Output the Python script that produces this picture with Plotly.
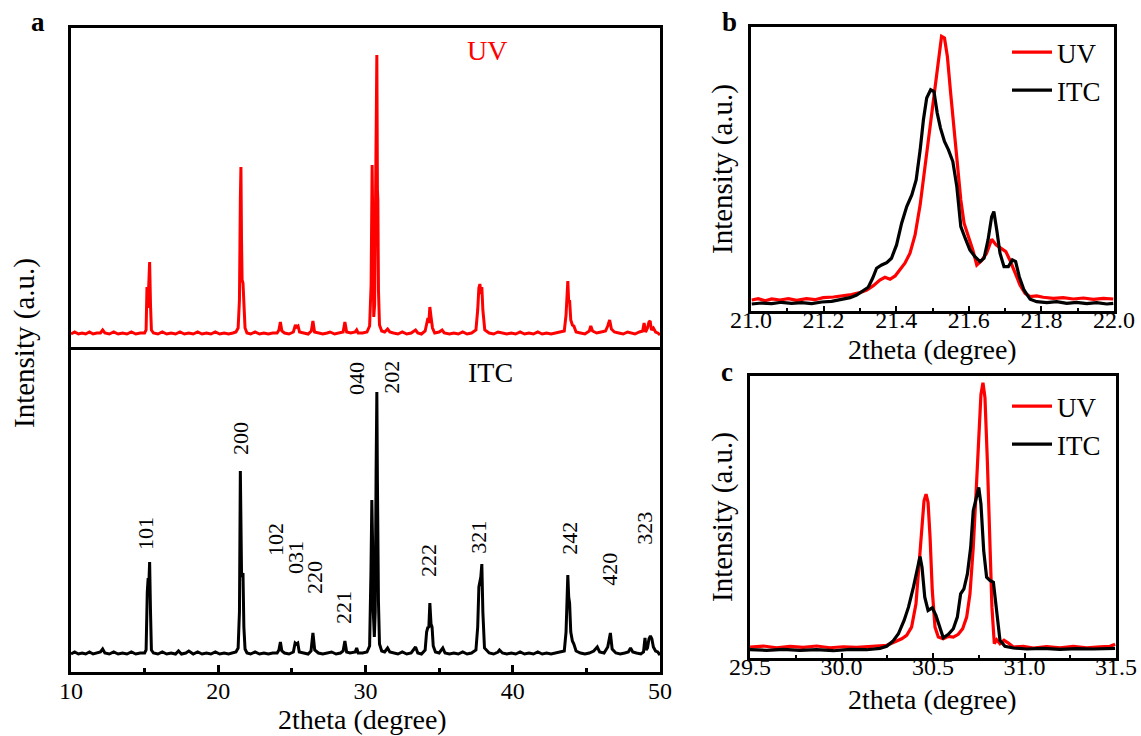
import plotly.graph_objects as go

# ---------------- data ----------------
uv_a_2theta = [10.0, 10.25, 10.5, 10.75, 11.0, 11.25, 11.5, 11.75, 12.0, 12.15, 12.3, 12.6, 12.9, 13.2, 13.5, 13.8, 14.1, 14.4, 14.7, 15.0,
               15.1, 15.16, 15.22, 15.3, 15.34, 15.4, 15.46, 15.6, 15.9, 16.2, 16.5, 16.8, 17.1, 17.4, 17.7, 18.0, 18.3, 18.6, 18.9, 19.2,
               19.5, 19.8, 20.1, 20.4, 20.7, 21.0, 21.2, 21.35, 21.44, 21.5, 21.54, 21.58, 21.62, 21.68, 21.74, 21.82, 21.95, 22.2, 22.5, 22.8,
               23.1, 23.4, 23.7, 24.0, 24.12, 24.22, 24.32, 24.5, 24.8, 25.1, 25.24, 25.32, 25.42, 25.52, 25.8, 26.1, 26.32, 26.43, 26.54, 26.8,
               27.1, 27.4, 27.6, 27.9, 28.2, 28.48, 28.6, 28.72, 29.0, 29.3, 29.4, 29.5, 29.8, 30.1, 30.28, 30.38, 30.45, 30.5, 30.56, 30.62,
               30.7, 30.77, 30.81, 30.84, 30.88, 30.95, 31.1, 31.3, 31.5, 31.65, 31.9, 32.2, 32.5, 32.8, 33.1, 33.4, 33.55, 33.8, 34.05, 34.18,
               34.24, 34.3, 34.37, 34.45, 34.55, 34.7, 35.0, 35.2, 35.35, 35.7, 36.0, 36.3, 36.6, 36.9, 37.2, 37.5, 37.62, 37.7, 37.77, 37.84,
               37.9, 37.97, 38.1, 38.4, 38.7, 39.0, 39.3, 39.6, 39.9, 40.2, 40.5, 40.8, 41.1, 41.4, 41.7, 42.0, 42.3, 42.6, 42.9, 43.2,
               43.5, 43.62, 43.68, 43.74, 43.8, 43.86, 43.94, 44.05, 44.15, 44.3, 44.6, 44.9, 45.2, 45.3, 45.42, 45.7, 46.0, 46.3, 46.45, 46.58,
               46.7, 46.9, 47.2, 47.5, 47.8, 48.0, 48.3, 48.6, 48.82, 48.92, 49.02, 49.15, 49.25, 49.33, 49.42, 49.55, 49.7, 49.85, 50.0]
uv_a_intensity = [16, 18, 16, 17, 16, 18, 16, 17, 17, 20, 17, 16, 18, 16, 17, 16, 18, 16, 17, 17,
                  20, 63, 42, 70, 88, 45, 20, 17, 16, 18, 16, 17, 16, 18, 16, 17, 16, 18, 16, 17,
                  16, 18, 16, 17, 16, 17, 18, 22, 50, 150, 183, 110, 70, 67, 40, 22, 17, 16, 18, 16,
                  17, 16, 17, 17, 20, 28, 19, 17, 16, 18, 25, 23, 24, 18, 17, 16, 19, 29, 18, 17,
                  16, 17, 18, 16, 17, 18, 28, 18, 17, 18, 20, 17, 17, 18, 24, 65, 185, 70, 33, 45,
                  170, 295, 160, 150, 60, 25, 19, 18, 21, 18, 17, 16, 18, 16, 17, 20, 17, 16, 19, 30,
                  32, 27, 43, 33, 22, 17, 18, 20, 17, 16, 17, 16, 18, 16, 17, 20, 40, 62, 66, 56,
                  63, 40, 20, 17, 16, 18, 17, 16, 17, 16, 18, 16, 17, 16, 18, 16, 17, 16, 17, 18,
                  19, 35, 60, 69, 48, 50, 30, 25, 24, 18, 17, 16, 19, 24, 19, 17, 18, 19, 24, 30,
                  21, 18, 17, 16, 18, 17, 16, 18, 19, 27, 18, 22, 28, 29, 20, 22, 18, 17, 15]

itc_a_2theta = [10.0, 10.25, 10.5, 10.75, 11.0, 11.25, 11.5, 11.75, 12.0, 12.15, 12.3, 12.6, 12.9, 13.2, 13.5, 13.8, 14.1, 14.4, 14.7, 15.0,
                15.1, 15.18, 15.24, 15.28, 15.34, 15.4, 15.46, 15.6, 15.9, 16.2, 16.5, 16.8, 17.1, 17.3, 17.5, 17.8, 18.0, 18.3, 18.6, 18.9,
                19.2, 19.5, 19.8, 20.1, 20.4, 20.7, 21.0, 21.2, 21.35, 21.44, 21.5, 21.54, 21.58, 21.64, 21.68, 21.74, 21.82, 21.95, 22.2, 22.5,
                22.8, 23.1, 23.4, 23.7, 24.0, 24.12, 24.22, 24.32, 24.5, 24.8, 25.1, 25.22, 25.3, 25.4, 25.5, 25.8, 26.1, 26.3, 26.43, 26.55,
                26.8, 27.1, 27.4, 27.7, 28.0, 28.3, 28.48, 28.6, 28.72, 28.95, 29.3, 29.4, 29.5, 29.8, 30.1, 30.28, 30.37, 30.43, 30.48, 30.53,
                30.6, 30.66, 30.72, 30.77, 30.81, 30.84, 30.88, 30.95, 31.1, 31.3, 31.5, 31.65, 31.9, 32.2, 32.5, 32.8, 33.1, 33.4, 33.55, 33.8,
                34.05, 34.15, 34.24, 34.3, 34.37, 34.45, 34.52, 34.6, 34.75, 35.0, 35.25, 35.4, 35.7, 36.0, 36.3, 36.6, 36.9, 37.2, 37.5, 37.62,
                37.7, 37.77, 37.83, 37.9, 37.97, 38.08, 38.4, 38.7, 39.0, 39.1, 39.3, 39.6, 39.9, 40.2, 40.5, 40.8, 41.1, 41.4, 41.7, 42.0,
                42.3, 42.6, 42.9, 43.2, 43.5, 43.62, 43.68, 43.74, 43.8, 43.86, 43.94, 44.05, 44.15, 44.3, 44.6, 44.9, 45.2, 45.5, 45.74, 45.9,
                46.2, 46.45, 46.63, 46.75, 47.0, 47.3, 47.6, 47.85, 48.0, 48.15, 48.4, 48.7, 48.88, 48.98, 49.06, 49.15, 49.25, 49.35, 49.45, 49.55,
                49.7, 49.85, 50.0]
itc_a_intensity = [18, 20, 18, 19, 18, 20, 18, 19, 20, 23, 19, 18, 20, 18, 19, 18, 20, 18, 19, 19,
                   22, 80, 94, 85, 110, 60, 22, 19, 18, 20, 18, 19, 18, 21, 18, 19, 21, 18, 20, 18,
                   19, 18, 20, 18, 19, 18, 19, 20, 24, 60, 201, 170, 100, 95, 99, 45, 23, 19, 18, 20,
                   18, 19, 18, 19, 19, 22, 30, 21, 19, 18, 20, 29, 28, 29, 20, 19, 18, 21, 39, 22,
                   19, 18, 19, 20, 18, 19, 21, 31, 20, 19, 20, 24, 19, 19, 20, 26, 100, 172, 130, 60,
                   35, 60, 200, 280, 190, 82, 70, 28, 21, 20, 24, 20, 19, 18, 20, 18, 19, 25, 19, 18,
                   22, 40, 45, 44, 69, 48, 45, 26, 20, 19, 24, 19, 18, 19, 18, 20, 18, 19, 22, 45,
                   85, 92, 95, 108, 60, 24, 19, 18, 20, 22, 19, 18, 19, 18, 20, 18, 19, 18, 20, 18,
                   19, 18, 19, 20, 21, 40, 80, 97, 75, 69, 40, 31, 28, 21, 19, 18, 19, 21, 25, 20,
                   19, 25, 39, 23, 19, 18, 19, 20, 24, 20, 19, 18, 20, 34, 22, 24, 33, 36, 33, 25,
                   21, 20, 17]

uv_b_2theta = [21.002, 21.020, 21.039, 21.057, 21.080, 21.103, 21.126, 21.153, 21.176, 21.199, 21.227, 21.254, 21.277, 21.300,
               21.319, 21.337, 21.355, 21.369, 21.383, 21.397, 21.410, 21.424, 21.438, 21.452, 21.466, 21.479, 21.493, 21.505,
               21.516, 21.525, 21.533, 21.541, 21.550, 21.559, 21.568, 21.578, 21.587, 21.599, 21.611, 21.622, 21.635, 21.649,
               21.663, 21.675, 21.691, 21.702, 21.713, 21.727, 21.741, 21.755, 21.769, 21.787, 21.805, 21.833, 21.860, 21.888,
               21.916, 21.943, 21.971, 21.998]
uv_b_intensity = [11.0, 12.3, 10.3, 12.0, 11.0, 12.3, 10.7, 12.3, 11.3, 13.3, 14.0, 15.0, 16.3, 18.3,
                  21.0, 25.3, 31.0, 33.7, 31.7, 35.0, 41.0, 47.7, 57.7, 76.0, 106.0, 144.3, 179.3, 214.3,
                  249.3, 274.3, 272.7, 254.3, 217.7, 181.0, 144.3, 111.0, 87.7, 74.3, 61.0, 46.0, 50.3, 57.7,
                  71.7, 66.0, 61.7, 59.3, 51.0, 37.7, 26.0, 17.7, 14.3, 15.0, 13.7, 12.7, 13.3, 12.0,
                  13.0, 11.7, 12.7, 12.0]
itc_b_2theta = [21.002, 21.029, 21.057, 21.084, 21.112, 21.140, 21.167, 21.195, 21.222, 21.250, 21.273, 21.291, 21.309, 21.323,
                21.335, 21.346, 21.360, 21.374, 21.387, 21.401, 21.415, 21.429, 21.443, 21.455, 21.466, 21.475, 21.484, 21.495,
                21.504, 21.513, 21.522, 21.533, 21.544, 21.556, 21.567, 21.578, 21.590, 21.603, 21.617, 21.631, 21.642, 21.653,
                21.663, 21.669, 21.677, 21.686, 21.697, 21.709, 21.720, 21.729, 21.739, 21.752, 21.769, 21.787, 21.815, 21.842,
                21.870, 21.897, 21.925, 21.952, 21.980, 21.998]
itc_b_intensity = [7.0, 8.0, 7.3, 8.7, 7.7, 8.3, 7.3, 9.0, 9.7, 11.7, 13.3, 16.0, 20.3, 23.7,
                   32.7, 42.7, 46.0, 48.3, 52.7, 66.0, 87.7, 104.3, 116.0, 131.0, 161.0, 191.0, 212.7, 221.0,
                   219.3, 197.7, 182.7, 169.3, 161.0, 149.3, 124.3, 84.3, 72.7, 61.0, 54.3, 49.3, 52.7, 71.0,
                   94.3, 99.3, 81.0, 57.7, 44.3, 44.3, 51.0, 49.3, 34.3, 21.0, 11.7, 9.3, 8.3, 9.3,
                   7.7, 8.7, 7.3, 8.3, 7.0, 7.7]

uv_c_2theta = [29.500, 29.573, 29.646, 29.719, 29.791, 29.864, 29.937, 30.010, 30.083, 30.156, 30.210, 30.247, 30.274, 30.301,
               30.329, 30.356, 30.383, 30.407, 30.423, 30.438, 30.451, 30.462, 30.473, 30.484, 30.496, 30.511, 30.529, 30.556,
               30.584, 30.611, 30.638, 30.662, 30.684, 30.702, 30.720, 30.735, 30.750, 30.762, 30.773, 30.784, 30.797, 30.810,
               30.822, 30.835, 30.848, 30.866, 30.888, 30.912, 30.939, 30.994, 31.048, 31.121, 31.194, 31.267, 31.340, 31.413,
               31.467, 31.495]
uv_c_intensity = [11.0, 12.0, 10.3, 11.7, 10.7, 12.0, 10.3, 11.3, 10.7, 12.0, 12.3, 12.7, 15.0, 17.0,
                  19.3, 22.7, 31.0, 54.3, 91.0, 131.0, 157.7, 164.3, 156.0, 121.0, 67.7, 31.0, 21.0, 19.3,
                  21.7, 21.0, 23.7, 29.3, 41.0, 64.3, 111.0, 164.3, 224.3, 264.3, 276.0, 261.0, 197.7, 117.7,
                  51.0, 14.3, 18.3, 14.3, 17.7, 15.0, 11.0, 11.7, 10.0, 11.3, 10.3, 11.7, 10.3, 11.3,
                  11.7, 13.7]
itc_c_2theta = [29.500, 29.591, 29.682, 29.773, 29.864, 29.955, 30.046, 30.138, 30.210, 30.247, 30.280, 30.311, 30.342, 30.366,
                30.393, 30.415, 30.429, 30.440, 30.455, 30.473, 30.496, 30.516, 30.535, 30.556, 30.584, 30.611, 30.633, 30.651,
                30.669, 30.688, 30.706, 30.720, 30.735, 30.750, 30.762, 30.777, 30.793, 30.811, 30.830, 30.848, 30.866, 30.893,
                30.939, 31.012, 31.103, 31.194, 31.285, 31.376, 31.495]
itc_c_intensity = [8.3, 7.7, 8.7, 7.7, 8.3, 7.3, 8.7, 8.3, 9.7, 11.7, 16.7, 24.3, 37.7, 51.0,
                   71.0, 87.7, 101.7, 91.0, 61.0, 47.7, 50.3, 42.7, 31.0, 20.3, 23.7, 29.3, 41.0, 64.3,
                   69.3, 84.3, 111.0, 147.7, 159.3, 171.0, 154.3, 107.7, 81.0, 77.7, 76.0, 44.3, 17.7, 11.7,
                   10.0, 9.0, 9.7, 8.7, 9.3, 9.0, 9.7]

peak_labels = ["101", "200", "102", "031", "220", "221", "040", "202", "222", "321", "242", "420", "323"]
peak_label_2theta = [15.02, 21.47, 23.85, 25.21, 26.50, 28.47, 29.35, 31.72, 34.24, 37.63, 43.81, 46.52, 48.90]

series_names = ["UV", "ITC"]
a_ticks = [10, 20, 30, 40, 50]
b_ticks = [21.0, 21.2, 21.4, 21.6, 21.8, 22.0]
c_ticks = [29.5, 30.0, 30.5, 31.0, 31.5]

# ---------------- layout helpers ----------------
W, H = 1141, 736
FONT = "Liberation Serif, Times New Roman, serif"
RED, BLACK = "#ff0000", "#000000"
peak_label_y = [139, 234, 133, 115, 95, 65, 294, 295, 112, 135, 134, 103, 144]


def px(x):
    return x / W


def py(y):
    return 1 - y / H


fig = go.Figure()
fig.add_trace(go.Scatter(x=uv_a_2theta, y=uv_a_intensity, mode="lines", line=dict(color=RED, width=3),
                         xaxis="x", yaxis="y", showlegend=False))
fig.add_trace(go.Scatter(x=itc_a_2theta, y=itc_a_intensity, mode="lines", line=dict(color=BLACK, width=3),
                         xaxis="x2", yaxis="y2", showlegend=False))
fig.add_trace(go.Scatter(x=uv_b_2theta, y=uv_b_intensity, mode="lines", name=series_names[0],
                         line=dict(color=RED, width=3.2), xaxis="x3", yaxis="y3", legend="legend"))
fig.add_trace(go.Scatter(x=itc_b_2theta, y=itc_b_intensity, mode="lines", name=series_names[1],
                         line=dict(color=BLACK, width=3.2), xaxis="x3", yaxis="y3", legend="legend"))
fig.add_trace(go.Scatter(x=uv_c_2theta, y=uv_c_intensity, mode="lines", name=series_names[0],
                         line=dict(color=RED, width=3.2), xaxis="x4", yaxis="y4", legend="legend2"))
fig.add_trace(go.Scatter(x=itc_c_2theta, y=itc_c_intensity, mode="lines", name=series_names[1],
                         line=dict(color=BLACK, width=3.2), xaxis="x4", yaxis="y4", legend="legend2"))

tickfont = dict(family=FONT, size=24, color="black")
frame = dict(showline=True, mirror=True, linecolor="black", linewidth=3, showgrid=False, zeroline=False,
             automargin=False)
yframe = dict(frame, showticklabels=False, ticks="", fixedrange=True)
legfont = dict(family=FONT, size=27, color="black")

fig.update_layout(
    width=W, height=H, margin=dict(l=0, r=0, t=0, b=0, pad=0, autoexpand=False),
    paper_bgcolor="white", plot_bgcolor="white",
    font=dict(family=FONT, color="black"),
    xaxis=dict(frame, domain=[px(71), px(660)], anchor="y", range=[10, 50], showticklabels=False, ticks="",
               side="top", mirror=False),
    yaxis=dict(yframe, domain=[py(350), py(28)], anchor="x", range=[0, 322]),
    xaxis2=dict(frame, domain=[px(71), px(660)], anchor="y2", range=[10, 50], tickvals=a_ticks,
                ticks="inside", ticklen=7, tickwidth=3, tickcolor="black", tickfont=tickfont, ticklabelstandoff=-5,
                minor=dict(dtick=5, ticks="inside", ticklen=4, tickwidth=3, tickcolor="black")),
    yaxis2=dict(yframe, domain=[py(672), py(350)], anchor="x2", range=[0, 322]),
    xaxis3=dict(frame, domain=[px(751), px(1114)], anchor="y3", range=[21.0, 22.0], tickvals=b_ticks,
                ticktext=[f"{v:.1f}" for v in b_ticks],
                ticks="inside", ticklen=5, tickwidth=2, tickcolor="black", tickfont=tickfont, ticklabelstandoff=-15,
                minor=dict(dtick=0.1, tick0=21.0, ticks="inside", ticklen=3, tickwidth=2, tickcolor="black")),
    yaxis3=dict(yframe, domain=[py(311), py(27)], anchor="x3", range=[0, 283.7]),
    xaxis4=dict(frame, domain=[px(750), px(1116)], anchor="y4", range=[29.5, 31.5], tickvals=c_ticks,
                ticktext=[f"{v:.1f}" for v in c_ticks],
                ticks="inside", ticklen=5, tickwidth=2, tickcolor="black", tickfont=tickfont, ticklabelstandoff=-15,
                minor=dict(dtick=0.25, tick0=29.5, ticks="inside", ticklen=3, tickwidth=2, tickcolor="black")),
    yaxis4=dict(yframe, domain=[py(658), py(376)], anchor="x4", range=[0, 282.7]),
    legend=dict(x=px(1007), y=py(28), xanchor="left", yanchor="top", bgcolor="rgba(0,0,0,0)",
                font=legfont, itemwidth=40, tracegroupgap=0),
    legend2=dict(x=px(1007), y=py(382), xanchor="left", yanchor="top", bgcolor="rgba(0,0,0,0)",
                 font=legfont, itemwidth=40, tracegroupgap=0),
)

ann = []
# peak index labels on the ITC pattern
for t, x, y in zip(peak_labels, peak_label_2theta, peak_label_y):
    ann.append(dict(text=t, x=x, y=y, xref="x2", yref="y2", textangle=-90, showarrow=False,
                    xanchor="center", yanchor="middle", font=dict(family=FONT, size=22, color="black")))
# sample names in panel a
ann.append(dict(text="UV", x=px(487), y=py(50), xref="paper", yref="paper", showarrow=False,
                xanchor="center", yanchor="middle", font=dict(family=FONT, size=28, color=RED)))
ann.append(dict(text="ITC", x=px(490), y=py(373), xref="paper", yref="paper", showarrow=False,
                xanchor="center", yanchor="middle", font=dict(family=FONT, size=28, color="black")))
# panel letters
for letter, x, y in [("a", 38, 22), ("b", 729, 22), ("c", 727, 372)]:
    ann.append(dict(text=f"<b>{letter}</b>", x=px(x), y=py(y), xref="paper", yref="paper", showarrow=False,
                    xanchor="center", yanchor="middle", font=dict(family=FONT, size=27, color="black")))
# axis titles
for x, y in [(362, 719), (932, 349), (932, 699)]:
    ann.append(dict(text="2theta (degree)", x=px(x), y=py(y), xref="paper", yref="paper", showarrow=False,
                    xanchor="center", yanchor="middle", font=dict(family=FONT, size=28, color="black")))
for x, y in [(25, 343), (722, 169), (722, 517)]:
    ann.append(dict(text="Intensity (a.u.)", x=px(x), y=py(y), xref="paper", yref="paper", showarrow=False,
                    xanchor="center", yanchor="middle",
                    textangle=-90, font=dict(family=FONT, size=29, color="black")))
fig.update_layout(annotations=ann)

fig.write_html("out.html", config={"displayModeBar": False},
               post_script="document.body.style.margin='0';document.body.style.overflow='hidden';")
